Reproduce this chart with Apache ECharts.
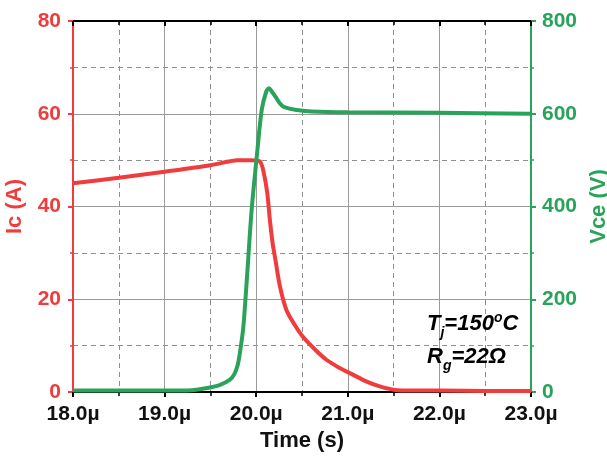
<!DOCTYPE html>
<html>
<head>
<meta charset="utf-8">
<script src="https://cdn.jsdelivr.net/npm/echarts@6/dist/echarts.min.js"></script>
<style>html,body{margin:0;padding:0;background:#fff}#c{width:607px;height:457px}</style>
</head>
<body>
<div id="c"></div>
<script>
// Time axis in microseconds
const timeIc = [18.0, 18.5, 19.0, 19.5, 19.7, 19.8, 19.95, 20.04, 20.08, 20.12, 20.15, 20.18, 20.21, 20.26, 20.33, 20.42, 20.51, 20.65, 20.77, 20.91, 21.05, 21.2, 21.35, 21.5, 21.7, 22.0, 22.5, 23.0];
const icValues = [45.0, 46.2, 47.5, 48.9, 49.7, 50.0, 50.0, 49.7, 47.5, 43.0, 37.0, 32.0, 28.5, 22.7, 17.7, 14.5, 11.9, 9.0, 6.9, 5.2, 3.8, 2.3, 1.2, 0.5, 0.3, 0.3, 0.2, 0.2];
const timeVce = [18.0, 18.5, 19.0, 19.3, 19.45, 19.6, 19.71, 19.76, 19.80, 19.83, 19.86, 19.90, 19.95, 20.01, 20.06, 20.11, 20.14, 20.17, 20.21, 20.26, 20.30, 20.44, 20.6, 21.0, 22.0, 23.0];
const vceValues = [3, 3, 3, 4, 8, 15, 26, 38, 60, 95, 141, 249, 392, 515, 608, 648, 655, 648, 637, 622, 615, 608, 605, 603, 602, 600];
const xTickLabelSuffix = 'µ';
const icAxisName = 'Ic (A)';
const vceAxisName = 'Vce (V)';
const timeAxisName = 'Time (s)';

const RED = '#f03c3c';
const GREEN = '#2aa35a';
const FONT = '"Liberation Sans", Arial, sans-serif';

const chart = echarts.init(document.getElementById('c'), null, {renderer: 'canvas'});
const pairs = (xs, ys) => xs.map((x, i) => [x, ys[i]]);

const gridSolid = {show: true, lineStyle: {color: '#9a9a9a', width: 1, type: 'solid'}};
const gridDashed = {show: true, lineStyle: {color: '#8f8f8f', width: 1, type: [5, 4]}};

chart.setOption({
  animation: false,
  backgroundColor: '#fff',
  grid: {left: 73, right: 76, top: 21, bottom: 65, containLabel: false, outerBoundsMode: 'none'},
  xAxis: [{
    type: 'value', min: 18, max: 23, interval: 1, position: 'bottom',
    name: timeAxisName, nameLocation: 'middle', nameGap: 37,
    nameTextStyle: {fontFamily: FONT, fontWeight: 'bold', fontSize: 22, color: '#111'},
    axisLine: {show: true, onZero: false, lineStyle: {color: '#000', width: 2}},
    axisTick: {show: true, inside: false, length: 5, lineStyle: {color: '#000', width: 2}},
    minorTick: {show: true, splitNumber: 2, length: 4, lineStyle: {color: '#000', width: 1.5}},
    axisLabel: {margin: 12, fontFamily: FONT, fontWeight: 'bold', fontSize: 21, color: '#111',
      formatter: v => v.toFixed(1) + xTickLabelSuffix},
    splitLine: gridSolid,
    minorSplitLine: gridDashed
  }, {
    type: 'value', min: 18, max: 23, interval: 1, position: 'top',
    axisLine: {show: true, onZero: false, lineStyle: {color: '#000', width: 2}},
    axisTick: {show: true, inside: true, length: 5, lineStyle: {color: '#000', width: 2}},
    minorTick: {show: true, splitNumber: 2, length: 4, lineStyle: {color: '#000', width: 1.5}},
    axisLabel: {show: false},
    splitLine: {show: false}
  }],
  yAxis: [{
    type: 'value', min: 0, max: 80, interval: 20, position: 'left',
    name: icAxisName, nameLocation: 'middle', nameGap: 47, nameRotate: 90,
    nameTextStyle: {fontFamily: FONT, fontWeight: 'bold', fontSize: 22, color: RED},
    axisLine: {show: true, onZero: false, lineStyle: {color: RED, width: 2}},
    axisTick: {show: true, inside: false, length: 5, lineStyle: {color: RED, width: 2}},
    minorTick: {show: true, splitNumber: 2, length: 3, lineStyle: {color: RED, width: 1.5}},
    axisLabel: {margin: 12, fontFamily: FONT, fontWeight: 'bold', fontSize: 21, color: RED},
    splitLine: gridSolid,
    minorSplitLine: gridDashed
  }, {
    type: 'value', min: 0, max: 800, interval: 200, position: 'right',
    name: vceAxisName, nameLocation: 'middle', nameGap: 45, nameRotate: 90,
    nameTextStyle: {fontFamily: FONT, fontWeight: 'bold', fontSize: 22, color: GREEN},
    axisLine: {show: true, onZero: false, lineStyle: {color: GREEN, width: 2}},
    axisTick: {show: true, inside: false, length: 5, lineStyle: {color: GREEN, width: 2}},
    minorTick: {show: true, splitNumber: 2, length: 3, lineStyle: {color: GREEN, width: 1.5}},
    axisLabel: {margin: 11, fontFamily: FONT, fontWeight: 'bold', fontSize: 21, color: GREEN},
    splitLine: {show: false}
  }],
  series: [{
    type: 'line', name: 'Ic', xAxisIndex: 0, yAxisIndex: 0,
    data: pairs(timeIc, icValues), smooth: 0.3, showSymbol: false,
    lineStyle: {color: RED, width: 4}, z: 3
  }, {
    type: 'line', name: 'Vce', xAxisIndex: 0, yAxisIndex: 1,
    data: pairs(timeVce, vceValues), smooth: 0.3, showSymbol: false,
    lineStyle: {color: GREEN, width: 4}, z: 4
  }],
  graphic: [{
    type: 'text', left: 427, top: 311, z: 100,
    style: {
      text: '{m|T}{s|j}{m|=150}{p|o}{m|C}',
      rich: {
        m: {fontFamily: FONT, fontWeight: 'bold', fontStyle: 'italic', fontSize: 22, color: '#111', lineHeight: 32, verticalAlign: 'middle'},
        s: {fontFamily: FONT, fontWeight: 'bold', fontStyle: 'italic', fontSize: 14, color: '#111', verticalAlign: 'bottom'},
        p: {fontFamily: FONT, fontWeight: 'bold', fontStyle: 'italic', fontSize: 14, color: '#111', verticalAlign: 'top', padding: [3, 0, 0, 0]}
      }
    }
  }, {
    type: 'text', left: 427, top: 346, z: 100,
    style: {
      text: '{m|R}{s|g}{m|=22Ω}',
      rich: {
        m: {fontFamily: FONT, fontWeight: 'bold', fontStyle: 'italic', fontSize: 22, color: '#111', lineHeight: 32, verticalAlign: 'middle'},
        s: {fontFamily: FONT, fontWeight: 'bold', fontStyle: 'italic', fontSize: 14, color: '#111', verticalAlign: 'bottom'}
      }
    }
  }]
});
</script>
</body>
</html>
